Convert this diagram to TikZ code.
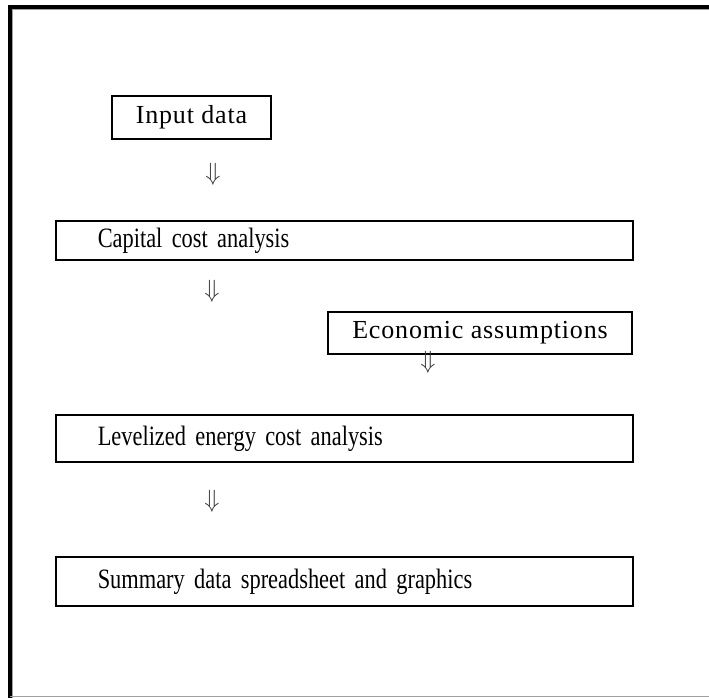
\documentclass[tikz,border=0pt]{standalone}
\usepackage{fontspec}
\setmainfont{Liberation Serif}
\newfontfamily\narrowfont{Liberation Serif}[FakeStretch=0.80]
\newfontfamily\spacedfont{Liberation Serif}[LetterSpace=3.2]
\newcommand\wboxfont{\fontsize{28}{32}\selectfont\narrowfont\fontdimen2\font=4.5pt\relax}
\definecolor{framegray}{HTML}{A0A0A0}
\definecolor{arrgray}{HTML}{3A3A3A}
\tikzset{
	tbox/.style={draw, line width=1.5pt, align=center, inner sep=0pt,
		font=\fontsize{26}{30}\selectfont\spacedfont},
	wbox/.style={draw, line width=1.5pt, anchor=west, inner xsep=42pt, inner ysep=0pt,
		text width=493pt, align=left, font=\wboxfont},
	darr/.style={text=arrgray, inner sep=0pt, font=\fontsize{25}{25}\selectfont}
}

\begin{document}
\begin{tikzpicture}[x=1pt, y=-1pt]
	\useasboundingbox (0,0) rectangle (709,698);
	% outer frame
	\draw[line width=3.5pt] (10,698) -- (10,7) -- (709,7);
	\draw[framegray, line width=1pt] (12.5,698) -- (12.5,9.5) -- (709,9.5);
	\draw[framegray, line width=1pt] (10,696) -- (709,696);

	\node[tbox, minimum width=159pt, minimum height=43pt] (input) at (191.5,117.5) {Input data};
	\node[wbox, minimum height=39pt] (capital) at (55,240.5) {Capital cost analysis};
	\node[tbox, minimum width=304pt, minimum height=42pt] (econ) at (480,333) {Economic assumptions};
	\node[wbox, minimum height=47pt] (level) at (55,438.5) {Levelized energy cost analysis};
	\node[wbox, minimum height=49pt] (summary) at (55,581.5) {Summary data spreadsheet and graphics};

	\node[darr] (arr1) at (213,174) {$\Downarrow$};
	\node[darr] (arr2) at (212,291) {$\Downarrow$};
	\node[darr] (arr3) at (428,362) {$\Downarrow$};
	\node[darr] (arr4) at (212,501) {$\Downarrow$};
\end{tikzpicture}
\end{document}
